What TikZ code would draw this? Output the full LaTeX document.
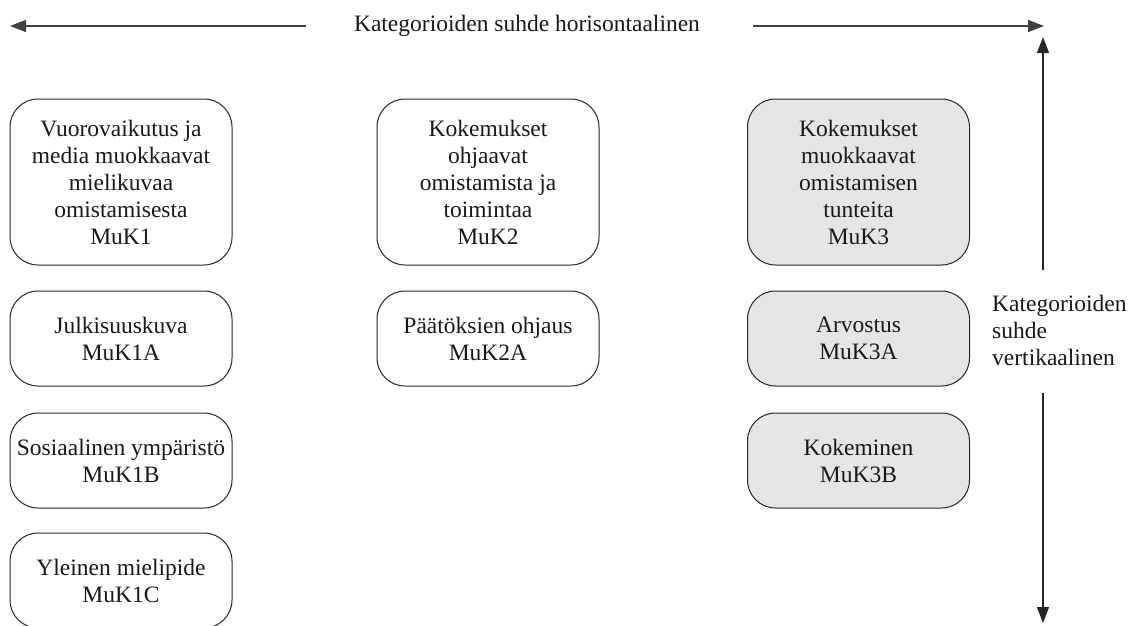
\documentclass[tikz,border=0pt]{standalone}
\usepackage{fontspec}
\setmainfont{Liberation Serif}
\usetikzlibrary{arrows.meta}
\begin{document}
\begin{tikzpicture}[x=1pt,y=-1pt,
  txt/.style={font=\fontsize{23.5}{27}\selectfont, text=black!90},
  cat/.style={txt, draw=black!85, line width=1pt, rounded corners=28pt, minimum width=222pt, align=center, inner sep=0pt},
  big/.style={cat, minimum height=166pt},
  small/.style={cat, minimum height=95pt},
  shade/.style={fill=black!10},
  arr/.style={line width=1.3pt, draw=black!75, -{Triangle[length=16pt,width=12pt]}},
  varr/.style={line width=1.1pt, draw=black!85, -{Triangle[length=16pt,width=12pt]}}
]
\useasboundingbox (0,0) rectangle (1130,625);
\clip (0,0) rectangle (1130,625);
% top row
\node[big] (m1) at (121,182) {Vuorovaikutus ja\\media muokkaavat\\mielikuvaa\\omistamisesta\\MuK1};
\node[big] (m2) at (488,182) {Kokemukset\\ohjaavat\\omistamista ja\\toimintaa\\MuK2};
\node[big,shade] (m3) at (858.5,182) {Kokemukset\\muokkaavat\\omistamisen\\tunteita\\MuK3};
% second row
\node[small] (m1a) at (121,338.5) {Julkisuuskuva\\MuK1A};
\node[small] (m2a) at (488,338.5) {Päätöksien ohjaus\\MuK2A};
\node[small,shade] (m3a) at (858.5,338.5) {Arvostus\\MuK3A};
% third row
\node[small] (m1b) at (121,460.5) {Sosiaalinen ympäristö\\MuK1B};
\node[small,shade] (m3b) at (858.5,460.5) {Kokeminen\\MuK3B};
% fourth row
\node[small] (m1c) at (121,580.5) {Yleinen mielipide\\MuK1C};
% horizontal relation
\node[txt] (hlab) at (527,26) {Kategorioiden suhde horisontaalinen};
\coordinate (hl1) at (306,26);
\coordinate (hl2) at (10,26);
\coordinate (hr1) at (753,26);
\coordinate (hr2) at (1044,26);
\draw[arr] (hl1) -- (hl2);
\draw[arr] (hr1) -- (hr2);
% vertical relation
\node[txt, align=left, anchor=west, inner sep=0pt] (vlab) at (992,330) {Kategorioiden\\suhde\\vertikaalinen};
\coordinate (vt1) at (1043,270);
\coordinate (vt2) at (1043,37);
\coordinate (vb1) at (1043,393);
\coordinate (vb2) at (1043,623);
\draw[varr] (vt1) -- (vt2);
\draw[varr] (vb1) -- (vb2);
\end{tikzpicture}
\end{document}
